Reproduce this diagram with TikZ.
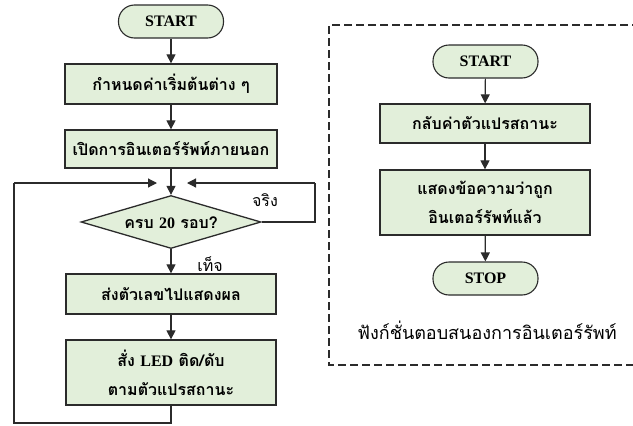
\documentclass[tikz,border=0pt]{standalone}
\usepackage{fontspec}
\setmainfont{Liberation Serif}
\newfontfamily\thaifont[Script=Thai]{Loma}
\usetikzlibrary{shapes.geometric,arrows.meta}
\definecolor{boxfill}{HTML}{E2EFDA}
\definecolor{edge}{HTML}{2B2B2B}
\newcommand\lat[1]{{\rmfamily\bfseries #1}}
\tikzset{
  every node/.style={font=\thaifont\bfseries\fontsize{16}{29}\selectfont},
  procbox/.style={draw=edge,line width=1.3pt,fill=boxfill,inner sep=0pt,align=center},
  termbox/.style={draw=edge,line width=1.1pt,fill=boxfill,rounded corners=16pt,inner sep=0pt,minimum width=105pt,minimum height=33pt,font=\rmfamily\bfseries\fontsize{16}{18}\selectfont},
  decbox/.style={draw=edge,line width=1.3pt,fill=boxfill,diamond,aspect=3.4,inner sep=0pt,minimum width=180pt,minimum height=53pt},
  flow/.style={line width=1.2pt,draw=edge,-{Triangle[width=9pt,length=9pt]}},
  plain/.style={line width=1.2pt,draw=edge},
  lbl/.style={font=\thaifont\fontsize{16}{18}\selectfont},
}
\begin{document}
\begin{tikzpicture}[x=1pt,y=-1pt]
\clip (0,0) rectangle (633,426);
\useasboundingbox (0,0) rectangle (633,426);
% left flow
\node[termbox] (s1) at (171,21.5) {START};
\node[procbox,minimum width=212pt,minimum height=40pt] (b1) at (171,84) {กำหนดค่าเริ่มต้นต่าง ๆ};
\node[procbox,minimum width=212pt,minimum height=38pt] (b2) at (171,149) {เปิดการอินเตอร์รัพท์ภายนอก};
\node[decbox] (d) at (171,222) {};
\node (dt) at (171,223) {ครบ \lat{20} รอบ?};
\node[procbox,minimum width=210pt,minimum height=40pt] (b3) at (171,294) {ส่งตัวเลขไปแสดงผล};
\node[procbox,minimum width=210pt,minimum height=65pt] (b4) at (171,372.5) {สั่ง \lat{LED} ติด/ดับ\\ตามตัวแปรสถานะ};
\coordinate (ml) at (157,183);
\coordinate (mr) at (187,183);
\coordinate (lb) at (14,423);
\coordinate (lt) at (14,183);
\coordinate (rt) at (315,183);
\coordinate (rm) at (315,222);
\coordinate (bb) at (171,423);
\draw[flow] (s1) -- (b1);
\draw[flow] (b1) -- (b2);
\draw[flow] (b2) -- (d);
\draw[flow] (d) -- (b3);
\draw[flow] (b3) -- (b4);
\draw[plain] (b4.south) -- (bb) -- (lb) -- (lt);
\draw[flow] (lt) -- (ml);
\draw[plain] (d.east) -- (rm) -- (rt);
\draw[flow] (rt) -- (mr);
\node[lbl] (tl) at (265,200) {จริง};
\node[lbl] (fl) at (210,264) {เท็จ};
% right panel
\draw[line width=1.1pt,draw=edge,dash pattern=on 8pt off 4pt] (640,25) -- (329,25) -- (329,365) -- (640,365);
\node[termbox] (s2) at (485.5,61.5) {START};
\node[procbox,minimum width=210pt,minimum height=39pt] (c1) at (485,123.5) {กลับค่าตัวแปรสถานะ};
\node[procbox,minimum width=210pt,minimum height=65pt] (c2) at (485,202.5) {แสดงข้อความว่าถูก\\อินเตอร์รัพท์แล้ว};
\node[termbox] (e2) at (485.5,278.5) {STOP};
\node[lbl,font=\thaifont\fontsize{18}{20}\selectfont] (cap) at (487,330) {ฟังก์ชั่นตอบสนองการอินเตอร์รัพท์};
\draw[flow] (s2) -- (c1);
\draw[flow] (c1) -- (c2);
\draw[flow] (c2) -- (e2);
\end{tikzpicture}
\end{document}
